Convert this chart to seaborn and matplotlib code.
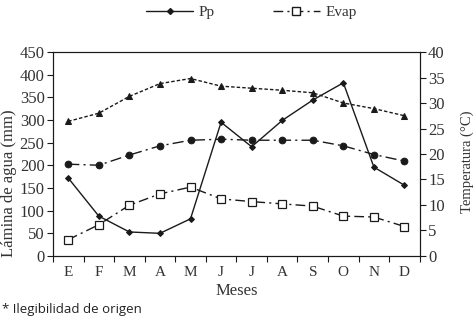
import numpy as np
import matplotlib
matplotlib.use('Agg')
import matplotlib.pyplot as plt
from matplotlib.lines import Line2D
from matplotlib.ticker import FixedLocator
import seaborn as sns

# Monthly values
months = ['E', 'F', 'M', 'A', 'M', 'J', 'J', 'A', 'S', 'O', 'N', 'D']
pp = [172, 88, 53, 50, 82, 295, 241, 299, 344, 382, 196, 156]
evap = [36, 69, 112, 137, 152, 126, 120, 115, 110, 88, 86, 65]
t_max = [26.4, 28.0, 31.3, 33.8, 34.8, 33.3, 32.9, 32.5, 32.0, 30.0, 28.9, 27.5]
t_med = [18.0, 17.8, 19.8, 21.6, 22.7, 22.9, 22.7, 22.7, 22.7, 21.6, 19.9, 18.6]

sns.set_theme(style='white')
plt.rcParams['font.family'] = ['Liberation Serif', 'DejaVu Serif']

ink = '#1a1a1a'
txt = '#333333'
x = np.arange(len(months))

fig = plt.figure(figsize=(4.77, 3.21), dpi=100)
ax = fig.add_axes([0.111, 0.2025, 0.769, 0.6355])
ax2 = ax.twinx()

# precipitation and evaporation on the left axis (mm)
sns.lineplot(x=x, y=pp, ax=ax, color=ink, linewidth=1.0, marker='D',
             markersize=3, markeredgecolor=ink, markerfacecolor=ink)
sns.lineplot(x=x, y=evap, ax=ax, color=ink, linewidth=1.0,
             linestyle=(0, (7, 3, 1.5, 3)), marker='s', markersize=5.5,
             markerfacecolor='white', markeredgecolor=ink, markeredgewidth=0.9)

# temperatures on the right axis (degC)
sns.lineplot(x=x, y=t_max, ax=ax2, color=ink, linewidth=1.0,
             linestyle=(0, (2.5, 1.5)), marker='^', markersize=5,
             markeredgecolor=ink, markerfacecolor=ink)
sns.lineplot(x=x, y=t_med, ax=ax2, color=ink, linewidth=1.0,
             linestyle=(0, (8, 3, 1.5, 3)), marker='o', markersize=4.8,
             markeredgecolor=ink, markerfacecolor=ink)

ax.set_xlim(-0.5, 11.5)
ax.set_ylim(0, 450)
ax2.set_ylim(0, 40)
ax.set_yticks(np.arange(0, 451, 50))
ax2.set_yticks(np.arange(0, 41, 5))

# month labels centred, tick marks between categories
ax.xaxis.set_major_locator(FixedLocator(np.arange(-0.5, 12, 1)))
ax.xaxis.set_minor_locator(FixedLocator(x))
ax.set_xticklabels([])
ax.set_xticklabels(months, minor=True)
ax.tick_params(axis='x', which='major', direction='out', length=4,
               width=0.8, color=ink, bottom=True)
ax.tick_params(axis='x', which='minor', length=0, pad=7, labelsize=11,
               labelcolor=txt)
ax.tick_params(axis='y', direction='out', length=4, width=0.8, color=ink,
               left=True, labelsize=12, labelcolor=txt, pad=2)
ax2.tick_params(axis='y', direction='out', length=4, width=0.8, color=ink,
                right=True, labelsize=12, labelcolor=txt, pad=2)

for a in (ax, ax2):
    for s in a.spines.values():
        s.set_color(ink)
        s.set_linewidth(0.8)

ax.set_xlabel('Meses', fontsize=12, color=txt, labelpad=3)
ax.set_ylabel('Lámina de agua (mm)', fontsize=12, color=txt)
ax.yaxis.set_label_coords(-0.098, 0.358)
ax2.set_ylabel('Temperatura (°C)', fontsize=10.5, color=txt)
ax2.yaxis.set_label_coords(1.11, 0.463)

handles = [
    Line2D([], [], color=ink, linewidth=1.0, marker='D', markersize=3),
    Line2D([], [], color=ink, linewidth=1.0, linestyle=(0, (7, 3, 1.5, 3)),
           marker='s', markersize=5.5, markerfacecolor='white',
           markeredgecolor=ink),
]
fig.legend(handles, ['Pp', 'Evap'], loc='upper center',
           bbox_to_anchor=(0.527, 1.025), ncol=2, frameon=False, fontsize=11,
           handlelength=3.1, handletextpad=0.35, columnspacing=3.8,
           labelcolor=txt)

fig.text(0.004, 0.025, '* Ilegibilidad de origen', fontsize=9.5,
         family=['Open Sans', 'DejaVu Sans'], color='#222222')

fig.savefig('out.png', dpi=100, facecolor='white')
